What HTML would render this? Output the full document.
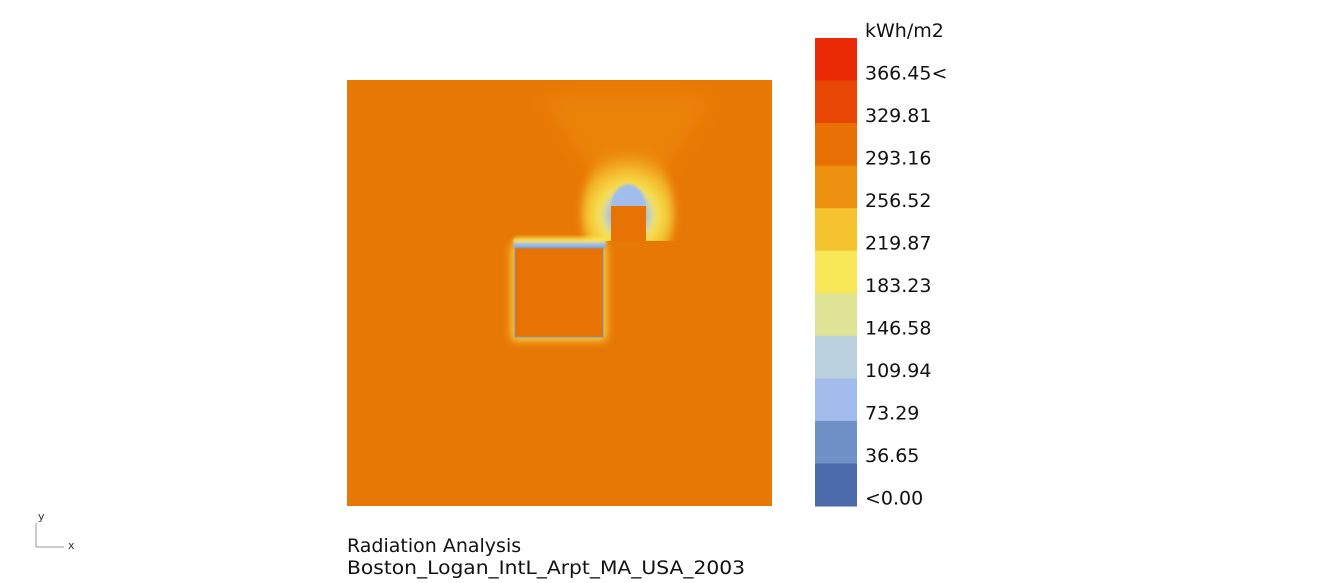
<!DOCTYPE html>
<html><head><meta charset="utf-8"><style>
body{margin:0;background:#fff;width:1333px;height:583px;overflow:hidden;font-family:"DejaVu Sans","Liberation Sans",sans-serif}
svg{position:absolute;left:0;top:0}
</style></head><body>
<svg width="1333" height="583">
<defs>
<radialGradient id="fan" cx="628" cy="215" r="70" gradientUnits="userSpaceOnUse">
<stop offset="0" stop-color="#a2bdeb"/>
<stop offset="0.28" stop-color="#a8c0e0"/>
<stop offset="0.38" stop-color="#f8e857"/>
<stop offset="0.65" stop-color="#f5c230" stop-opacity="0.85"/>
<stop offset="1" stop-color="#ee9010" stop-opacity="0"/>
</radialGradient>
<linearGradient id="topHalo" x1="0" y1="0" x2="0" y2="1">
<stop offset="0" stop-color="#f8e857" stop-opacity="0.3"/>
<stop offset="0.4" stop-color="#f8e857"/>
<stop offset="0.6" stop-color="#a2bdeb"/>
<stop offset="1" stop-color="#7f9fd0"/>
</linearGradient>
<clipPath id="above"><rect x="347" y="80" width="425" height="161"/></clipPath>
<filter id="blur"><feGaussianBlur stdDeviation="4"/></filter>
<filter id="blurBig"><feGaussianBlur stdDeviation="12"/></filter>
<filter id="blur2"><feGaussianBlur stdDeviation="1.2"/></filter>
</defs>
<rect x="347" y="80" width="425" height="426" fill="#e87805"/>
<g>
<path d="M628 225 L540 95 L715 95 Z" fill="#ee9010" opacity="0.5" filter="url(#blurBig)" clip-path="url(#above)"/>
<ellipse cx="628" cy="212" rx="46" ry="68" fill="url(#fan)" filter="url(#blur)" clip-path="url(#above)"/>
<rect x="511" y="243" width="96" height="98" rx="5" fill="#f8e857" opacity="0.75" filter="url(#blur)"/>
<rect x="513" y="236" width="93" height="13" rx="5" fill="url(#topHalo)" filter="url(#blur2)"/>
<path d="M611 206 Q613 186 628 184 Q644 186 646 206 Z" fill="#a2bdeb" filter="url(#blur2)"/>
</g>
<rect x="515" y="248" width="88" height="89" fill="#e87305" stroke="#8090c0" stroke-width="1"/>
<rect x="611" y="206" width="35" height="35" fill="#e87305"/>
<g id="legend"></g>
<text x="865" y="37" font-size="19" fill="#111">kWh/m2</text>
<text x="347" y="552" font-size="19" fill="#111">Radiation Analysis</text>
<text x="347" y="574" font-size="19" fill="#111" textLength="398" lengthAdjust="spacingAndGlyphs">Boston_Logan_IntL_Arpt_MA_USA_2003</text>
<g>
<path d="M36 523 V547 H64" stroke="#999" fill="none"/>
<text x="38" y="520" font-size="11" fill="#333">y</text>
<text x="68" y="549" font-size="11" fill="#333">x</text>
</g>
</svg>
<script>
const legendLabels=["366.45<","329.81","293.16","256.52","219.87","183.23","146.58","109.94","73.29","36.65","<0.00"];
const legendColors=["#ea2a04","#e84605","#e87005","#ee9010","#f5c230","#f8e857","#e0e497","#bad0dc","#a2bdeb","#7090c8","#4b6aab"];
const g=document.getElementById('legend');
const NS="http://www.w3.org/2000/svg";
const top0=38,bottom0=506,h=(bottom0-top0)/legendLabels.length;
legendLabels.forEach((lab,i)=>{
 const r=document.createElementNS(NS,'rect');
 r.setAttribute('x',815);r.setAttribute('y',top0+i*h);r.setAttribute('width',42);r.setAttribute('height',h+0.5);
 r.setAttribute('fill',legendColors[i]);
 
 
 g.appendChild(r);
 const t=document.createElementNS(NS,'text');
 t.setAttribute('x',865);t.setAttribute('y',top0+i*h+h*0.97);t.setAttribute('font-size','19');t.setAttribute('fill','#111');
 t.textContent=lab;
 
 
 g.appendChild(t);
});
</script>
</body></html>
